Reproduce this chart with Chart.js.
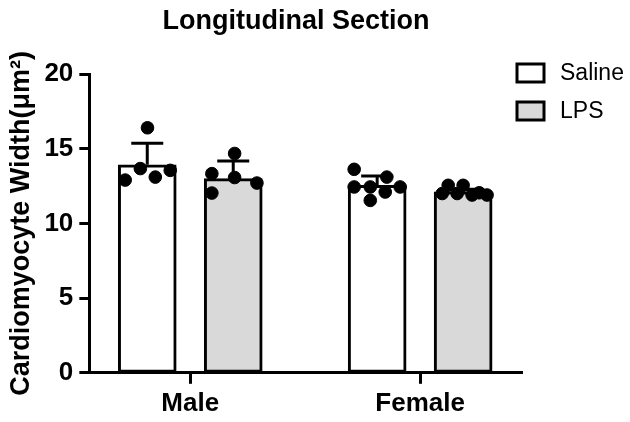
<!DOCTYPE html>
<html>
<head>
<meta charset="utf-8">
<script src="https://cdn.jsdelivr.net/npm/chart.js@4.4.1/dist/chart.umd.min.js"></script>
<style>
html,body{margin:0;padding:0;background:#fff;}
#wrap{width:630px;height:422px;position:relative;}
</style>
</head>
<body>
<div id="wrap"><canvas id="c" width="630" height="422"></canvas></div>
<script>
// ---- data ----
const categories = ['Male', 'Female'];
const seriesNames = ['Saline', 'LPS'];
const salineMean = [13.92, 12.55];
const lpsMean = [13.0, 12.12];
const salineErr = [1.45, 0.62];
const lpsErr = [1.18, 0.16];
// individual animals
const salineMalePts = [16.4, 13.67, 12.9, 13.1, 13.55];
const salineFemalePts = [13.62, 13.1, 12.44, 12.44, 12.1, 12.44, 11.54];
const lpsMalePts = [14.68, 13.33, 13.07, 12.03, 12.7];
const lpsFemalePts = [12.0, 12.55, 12.0, 12.55, 11.9, 12.05, 11.9];
// horizontal jitter of the dots (in category units)
const salineMaleJit = [-0.186, -0.217, -0.283, -0.152, -0.087];
const salineFemaleJit = [-0.287, -0.145, -0.287, -0.217, -0.152, -0.087, -0.217];
const lpsMaleJit = [0.193, 0.094, 0.193, 0.094, 0.290];
const lpsFemaleJit = [0.096, 0.122, 0.161, 0.187, 0.226, 0.257, 0.291];
const yTicks = [0, 5, 10, 15, 20];

// ---- build ----
const groupOffset = 0.187;
const barData = (means, off) => means.map((v, i) => ({x: i + off, y: v}));
const dots = (vals, jit, g) => vals.map((v, i) => ({x: g + jit[i], y: v}));

const salineDots = dots(salineMalePts, salineMaleJit, 0).concat(dots(salineFemalePts, salineFemaleJit, 1));
const lpsDots = dots(lpsMalePts, lpsMaleJit, 0).concat(dots(lpsFemalePts, lpsFemaleJit, 1));

const FONT = "'Liberation Sans', Arial, Helvetica, sans-serif";
const lpsFill = '#d9d9d9';

const errorBars = {
  id: 'errorBars',
  afterDatasetsDraw(chart) {
    const ctx = chart.ctx;
    const y = chart.scales.y;
    const errs = [salineErr, lpsErr];
    const means = [salineMean, lpsMean];
    [0, 1].forEach(di => {
      const meta = chart.getDatasetMeta(di);
      meta.data.forEach((bar, i) => {
        const top = y.getPixelForValue(means[di][i] + errs[di][i]);
        const base = y.getPixelForValue(means[di][i]);
        ctx.save();
        ctx.strokeStyle = '#000';
        ctx.lineWidth = 3;
        ctx.beginPath();
        ctx.moveTo(bar.x, base);
        ctx.lineTo(bar.x, top);
        ctx.moveTo(bar.x - 16, top);
        ctx.lineTo(bar.x + 16, top);
        ctx.stroke();
        ctx.restore();
      });
    });
  }
};

const decor = {
  id: 'decor',
  afterDraw(chart) {
    const ctx = chart.ctx;
    ctx.save();
    // title
    ctx.fillStyle = '#000';
    ctx.font = 'bold 27px ' + FONT;
    ctx.textAlign = 'center';
    ctx.textBaseline = 'middle';
    ctx.fillText('Longitudinal Section', 296, 22);
    // legend
    const fills = ['#ffffff', lpsFill];
    const rows = [73, 111];
    ctx.font = '23px ' + FONT;
    ctx.textAlign = 'left';
    seriesNames.forEach((n, i) => {
      const cy = rows[i];
      ctx.fillStyle = fills[i];
      ctx.fillRect(517, cy - 9, 27, 18);
      ctx.strokeStyle = '#000';
      ctx.lineWidth = 3;
      ctx.strokeRect(517, cy - 9, 27, 18);
      ctx.fillStyle = '#000';
      ctx.fillText(n, 560, cy + 1);
    });
    ctx.restore();
  }
};

new Chart(document.getElementById('c'), {
  type: 'bar',
  data: {
    datasets: [
      {
        label: seriesNames[0],
        data: barData(salineMean, -groupOffset),
        backgroundColor: '#ffffff',
        borderColor: '#000',
        borderWidth: 3,
        borderSkipped: false,
        barThickness: 58,
        grouped: false,
        order: 2
      },
      {
        label: seriesNames[1],
        data: barData(lpsMean, groupOffset),
        backgroundColor: lpsFill,
        borderColor: '#000',
        borderWidth: 3,
        borderSkipped: false,
        barThickness: 58,
        grouped: false,
        order: 2
      },
      {
        type: 'scatter',
        label: seriesNames[0] + ' dots',
        data: salineDots,
        backgroundColor: '#000',
        borderColor: '#000',
        pointRadius: 6.3,
        order: 0
      },
      {
        type: 'scatter',
        label: seriesNames[1] + ' dots',
        data: lpsDots,
        backgroundColor: '#000',
        borderColor: '#000',
        pointRadius: 6.3,
        order: 0
      }
    ]
  },
  options: {
    responsive: false,
    animation: false,
    devicePixelRatio: 1,
    layout: { padding: { left: 1, right: 108, top: 74, bottom: -1 } },
    plugins: {
      legend: { display: false },
      title: { display: false },
      tooltip: { enabled: false }
    },
    scales: {
      x: {
        type: 'linear',
        offset: false,
        min: -0.439,
        max: 1.443,
        afterBuildTicks(scale) { scale.ticks = [{value: 0}, {value: 1}]; },
        ticks: {
          callback: (v, i) => categories[i],
          color: '#000',
          font: { family: FONT, size: 26, weight: 'bold' },
          padding: 4,
          maxRotation: 0,
          autoSkip: false
        },
        grid: { offset: false, drawOnChartArea: false, drawTicks: true, tickLength: 11, tickWidth: 3, tickColor: '#000' },
        border: { display: true, width: 3, color: '#000' }
      },
      y: {
        min: 0,
        max: 20,
        afterBuildTicks(scale) { scale.ticks = yTicks.map(v => ({value: v})); },
        ticks: {
          color: '#000',
          font: { family: FONT, size: 26, weight: 'bold' },
          padding: 6
        },
        grid: { drawOnChartArea: false, drawTicks: true, tickLength: 10, tickWidth: 3, tickColor: '#000' },
        border: { display: true, width: 3, color: '#000' },
        title: {
          display: true,
          text: 'Cardiomyocyte Width(μm²)',
          color: '#000',
          font: { family: FONT, size: 27, weight: 'bold' },
          padding: { top: 4, bottom: 1 }
        }
      }
    }
  },
  plugins: [errorBars, decor]
});
</script>
</body>
</html>
